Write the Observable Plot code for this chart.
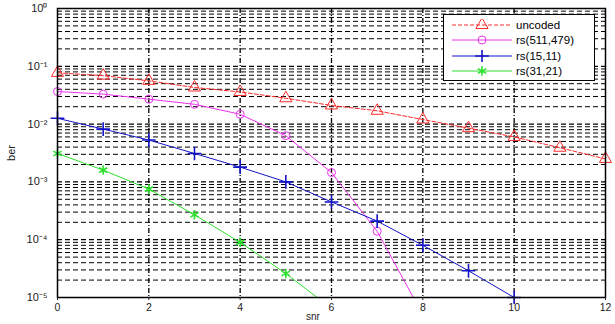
<!DOCTYPE html>
<html><head><meta charset="utf-8">
<script src="https://cdn.jsdelivr.net/npm/d3@7"></script>
<script src="https://cdn.jsdelivr.net/npm/@observablehq/plot@0.6"></script>
<style>
body{margin:0;background:#fff;font-family:"Liberation Sans",Arial,sans-serif;}
#wrap{position:relative;width:615px;height:324px;}
#legend{position:absolute;left:443px;top:14px;width:152px;height:67px;border:1px solid #000;background:#fff;font-size:11.5px;color:#000;box-sizing:border-box;padding-top:2px;}
#legend .row{display:flex;align-items:center;height:15.5px;}
#legend svg{margin-left:8px;margin-right:4px;}
#xlab{position:absolute;left:306px;top:311px;font-size:10px;color:#222;line-height:12px;}
</style></head>
<body><div id="wrap"><div id="chart"></div><div id="legend"></div><div id="xlab">snr</div></div>
<script>
const snr = [0,1,2,3,4,5,6,7,8,9,10,11,12];
const uncoded = [0.077,0.069,0.056,0.043,0.036,0.028,0.021,0.017,0.012,0.0085,0.006,0.0039,0.0025];
const rs511 = [0.0366,0.033,0.027,0.022,0.0148,0.0063,0.00145,0.00014,0.000005];
const rs15 = [0.0126,0.0082,0.0053,0.0031,0.0018,0.001,0.00045,0.00021,0.00008,0.000029,0.00001];
const rs31 = [0.0031,0.0016,0.00075,0.00027,0.00009,0.000026,0.0000065];
const xTicks = [0,2,4,6,8,10,12];
const yTicks = [1,0.1,0.01,0.001,0.0001,0.00001];
const yTickLabels = ["10\u2070","10\u207B\u00B9","10\u207B\u00B2","10\u207B\u00B3","10\u207B\u2074","10\u207B\u2075"];
const seriesNames = ["uncoded","rs(511,479)","rs(15,11)","rs(31,21)"];
const seriesColors = ["#ff2a2a","#ee33ee","#1414c8","#2ee02e"];
const seriesSymbols = ["triangle","circle","plus","asterisk"];
const seriesDash = ["4,2",null,null,null];
const seriesValues = [uncoded, rs511, rs15, rs31];

const rows = [];
seriesValues.forEach((vals, i) => vals.forEach((v, j) => rows.push({series: seriesNames[i], snr: snr[j], ber: v, idx: i})));

const minorY = [];
for (let k = -5; k < 0; k++) for (let m = 2; m <= 9; m++) minorY.push(m * Math.pow(10, k));

const marks = [
  Plot.ruleY(minorY, {stroke: "#000", strokeWidth: 1, strokeDasharray: "5,3"}),
  Plot.ruleY(yTicks.slice(1,5), {stroke: "#000", strokeWidth: 1.2, strokeDasharray: "5,3"}),
  Plot.ruleX([2,4,6,8,10], {stroke: "#000", strokeWidth: 1.3, strokeDasharray: "5,2,1,2"}),
];
seriesNames.forEach((name, i) => {
  const d = rows.filter(r => r.idx === i);
  marks.push(Plot.line(d, {x: "snr", y: "ber", stroke: seriesColors[i], strokeWidth: 1, strokeDasharray: seriesDash[i], clip: true}));
  marks.push(Plot.dot(d.filter(r => r.ber >= 1e-5), {x: "snr", y: "ber", stroke: seriesColors[i], symbol: seriesSymbols[i], r: seriesSymbols[i] === "circle" ? 4 : 4.5, strokeWidth: seriesSymbols[i] === "plus" || seriesSymbols[i] === "asterisk" ? 1.6 : 1, fill: "none"}));
});
marks.push(Plot.frame({stroke: "#000", strokeWidth: 1.5}));
marks.push(Plot.axisX({ticks: xTicks, tickSize: 3, tickPadding: 3, fontSize: 10.5, label: null}));
marks.push(Plot.axisY({ticks: yTicks, tickFormat: (d) => yTickLabels[yTicks.indexOf(d)], tickSize: 0, tickPadding: 10, fontSize: 11, label: "ber", labelAnchor: "center", labelOffset: 50, labelArrow: "none"}));

const chart = Plot.plot({
  width: 615, height: 324,
  marginLeft: 57, marginRight: 10, marginTop: 8, marginBottom: 27,
  style: {fontFamily: "Liberation Sans, Arial, sans-serif", fontSize: "10px", color: "#222", background: "#fff"},
  x: {domain: [0, 12]},
  y: {type: "log", domain: [1e-5, 1]},
  marks
});
document.getElementById("chart").appendChild(chart);

const lg = document.getElementById("legend");
seriesNames.forEach((name, i) => {
  const row = document.createElement("div");
  row.className = "row";
  const s = d3.create("svg").attr("width", 60).attr("height", 12);
  s.append("line").attr("x1", 0).attr("x2", 60).attr("y1", 6).attr("y2", 6).attr("stroke", seriesColors[i]).attr("stroke-width", 1).attr("stroke-dasharray", seriesDash[i]);
  const sym = {triangle: d3.symbolTriangle, circle: d3.symbolCircle, plus: d3.symbolPlus, asterisk: d3.symbolAsterisk}[seriesSymbols[i]];
  s.append("path").attr("d", d3.symbol(sym, seriesSymbols[i]==="circle"?50:64)()).attr("transform", "translate(30,6)").attr("fill", "none").attr("stroke", seriesColors[i]).attr("stroke-width", seriesSymbols[i]==="plus"||seriesSymbols[i]==="asterisk"?1.6:1);
  row.appendChild(s.node());
  const t = document.createElement("span"); t.textContent = name; row.appendChild(t);
  lg.appendChild(row);
});
</script></body></html>
